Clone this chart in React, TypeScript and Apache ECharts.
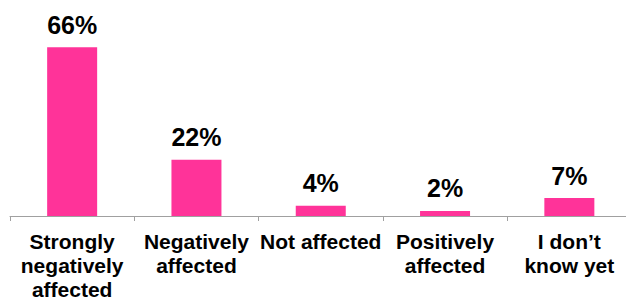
import React, { useEffect, useRef } from "react";
import * as echarts from "echarts";

const categories: string[] = [
  "Strongly\nnegatively\naffected",
  "Negatively\naffected",
  "Not affected",
  "Positively\naffected",
  "I don’t\nknow yet",
];
const values: number[] = [66, 22, 4, 2, 7];

export default function App() {
  const ref = useRef<HTMLDivElement>(null);
  useEffect(() => {
    if (!ref.current) return;
    const chart = echarts.init(ref.current, undefined, { renderer: "svg" });
    chart.setOption({
      animation: false,
      textStyle: { fontFamily: "'Liberation Sans', Arial, sans-serif" },
      grid: { left: 10, width: 621.5, top: 37, height: 182 },
      xAxis: {
        type: "category",
        data: categories,
        boundaryGap: true,
        axisLine: { show: true, lineStyle: { color: "#a0a0a0", width: 1 } },
        axisTick: { show: true, length: 5, lineStyle: { color: "#a0a0a0" } },
        axisLabel: {
          interval: 0,
          margin: 13,
          color: "#000",
          fontSize: 21,
          fontWeight: "bold",
          lineHeight: 24,
          fontFamily: "'Liberation Sans', Arial, sans-serif",
        },
      },
      yAxis: {
        type: "value",
        min: 0,
        max: 70,
        show: false,
        splitLine: { show: false },
      },
      series: [
        {
          type: "bar",
          data: values,
          barWidth: 50,
          itemStyle: { color: "#ff3399" },
          label: {
            show: true,
            position: "top",
            distance: 10,
            formatter: (p: any) => p.value + "%",
            color: "#000",
            fontSize: 25,
            fontWeight: "bold",
            lineHeight: 25,
            fontFamily: "'Liberation Sans', Arial, sans-serif",
          },
        },
      ],
    });
    return () => chart.dispose();
  }, []);
  return (
    <div
      style={{
        position: "fixed",
        left: 0,
        top: 0,
        width: 626,
        height: 301,
        overflow: "hidden",
        background: "#fff",
      }}
    >
      <div ref={ref} style={{ width: 640, height: 301 }} />
    </div>
  );
}
